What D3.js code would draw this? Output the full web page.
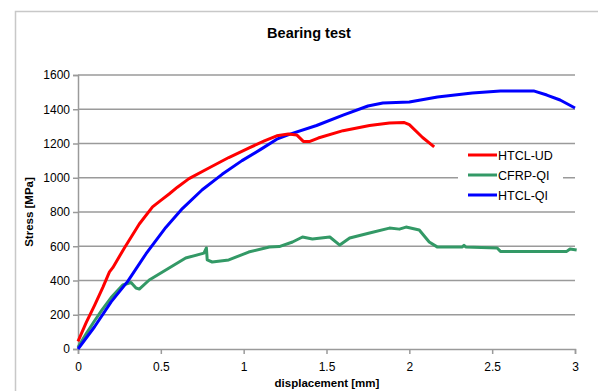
<!DOCTYPE html>
<html>
<head>
<meta charset="utf-8">
<script src="https://cdn.jsdelivr.net/npm/d3@7"></script>
<style>
body { margin:0; background:#fff; }
svg { font-family: "Liberation Sans", Arial, sans-serif; }
</style>
</head>
<body>
<script>
// series names and colours
var seriesNames = ["HTCL-UD", "CFRP-QI", "HTCL-QI"];
var seriesColors = ["#ff0000", "#339966", "#0000ff"];

// displacement [mm] / stress [MPa]
var udX = [0,0.05,0.1,0.15,0.19,0.21,0.28,0.37,0.45,0.5,0.55,0.6,0.67,0.79,0.91,1.03,1.125,1.2,1.27,1.32,1.36,1.4,1.45,1.6,1.76,1.88,1.97,2.0,2.08,2.15];
var udY = [45,155,255,360,450,475,590,730,830,868,905,945,995,1057,1118,1173,1215,1245,1255,1250,1212,1212,1232,1275,1305,1320,1322,1310,1235,1180];

var cfX = [0,0.05,0.1,0.145,0.2,0.27,0.32,0.35,0.37,0.43,0.55,0.65,0.76,0.775,0.78,0.81,0.91,1.03,1.155,1.215,1.295,1.355,1.415,1.52,1.58,1.64,1.76,1.88,1.94,1.98,2.06,2.12,2.17,2.32,2.33,2.34,2.53,2.55,2.95,2.97,3.01];
var cfY = [10,90,165,228,300,374,388,356,350,403,473,531,560,590,520,508,520,566,596,598,625,654,642,654,607,648,677,706,700,712,695,625,595,596,605,596,590,570,570,584,578];

var qiX = [0,0.1,0.2,0.3,0.41,0.53,0.63,0.75,0.87,0.99,1.11,1.2,1.28,1.44,1.6,1.75,1.84,2.0,2.17,2.38,2.55,2.75,2.83,2.91,3.0];
var qiY = [0,130,275,395,555,710,820,930,1020,1100,1170,1225,1255,1305,1366,1419,1436,1442,1472,1495,1507,1507,1483,1454,1407];

var xTicks = [0,0.5,1,1.5,2,2.5,3];
var yTicks = [0,200,400,600,800,1000,1200,1400,1600];

var W = 598, H = 391;
var plotL = 78, plotR = 575, plotT = 75, plotB = 349;

var svg = d3.select("body").append("svg")
	.attr("width", W)
	.attr("height", H);

// outer chart border
svg.append("rect")
	.attr("x", 15.5).attr("y", 11.5)
	.attr("width", W).attr("height", H)
	.attr("fill", "none")
	.attr("stroke", "#c8c8c8")
	.attr("stroke-width", 1.5);

var x = d3.scaleLinear().domain([0,3]).range([plotL, plotR]);
var y = d3.scaleLinear().domain([0,1600]).range([plotB, plotT]);

// gridlines
svg.append("g").selectAll("line")
	.data(yTicks.slice(1))
	.enter().append("line")
	.attr("x1", plotL).attr("x2", plotR)
	.attr("y1", function(d){ return y(d); })
	.attr("y2", function(d){ return y(d); })
	.attr("stroke", "#9a9a9a")
	.attr("stroke-width", 1.5);

// axes
var xAxis = svg.append("g")
	.attr("transform", "translate(0," + plotB + ")")
	.call(d3.axisBottom(x).tickValues(xTicks).tickSize(5).tickPadding(8).tickFormat(d3.format("")));
var yAxis = svg.append("g")
	.attr("transform", "translate(" + plotL + ",0)")
	.call(d3.axisLeft(y).tickValues(yTicks).tickSize(5).tickPadding(3).tickFormat(d3.format("d")));

[xAxis, yAxis].forEach(function(a){
	a.select(".domain").attr("stroke", "#9a9a9a").attr("stroke-width", 1.5);
	a.selectAll(".tick line").attr("stroke", "#9a9a9a").attr("stroke-width", 1.5);
	a.selectAll("text").attr("fill", "#000").style("font-size", "12px")
		.style("font-family", "'Liberation Sans', Arial, sans-serif");
});

// curves
var line = d3.line()
	.x(function(d){ return x(d[0]); })
	.y(function(d){ return y(d[1]); });

var allSeries = [
	d3.zip(udX, udY),
	d3.zip(cfX, cfY),
	d3.zip(qiX, qiY)
];
var drawOrder = [1, 2, 0];

drawOrder.forEach(function(i){
	svg.append("path")
		.datum(allSeries[i])
		.attr("d", line)
		.attr("fill", "none")
		.attr("stroke", seriesColors[i])
		.attr("stroke-width", 3)
		.attr("stroke-linejoin", "round");
});

// legend
var lg = svg.append("g");
lg.append("rect")
	.attr("x", 458).attr("y", 146)
	.attr("width", 105).attr("height", 58)
	.attr("fill", "#fff");
seriesNames.forEach(function(name, i){
	var ly = 155 + i * 20;
	lg.append("line")
		.attr("x1", 468).attr("x2", 497)
		.attr("y1", ly).attr("y2", ly)
		.attr("stroke", seriesColors[i])
		.attr("stroke-width", 3);
	lg.append("text")
		.attr("x", 498).attr("y", ly + 4.5)
		.style("font-size", "12.5px")
		.text(name);
});

// titles
svg.append("text")
	.attr("x", 309).attr("y", 38)
	.attr("text-anchor", "middle")
	.style("font-size", "14.5px")
	.style("font-weight", "bold")
	.text("Bearing test");

svg.append("text")
	.attr("x", 327).attr("y", 387)
	.attr("text-anchor", "middle")
	.style("font-size", "11.5px")
	.style("font-weight", "bold")
	.text("displacement [mm]");

svg.append("text")
	.attr("transform", "translate(33," + ((plotT + plotB) / 2) + ") rotate(-90)")
	.attr("text-anchor", "middle")
	.style("font-size", "11.5px")
	.style("font-weight", "bold")
	.text("Stress [MPa]");
</script>
</body>
</html>
